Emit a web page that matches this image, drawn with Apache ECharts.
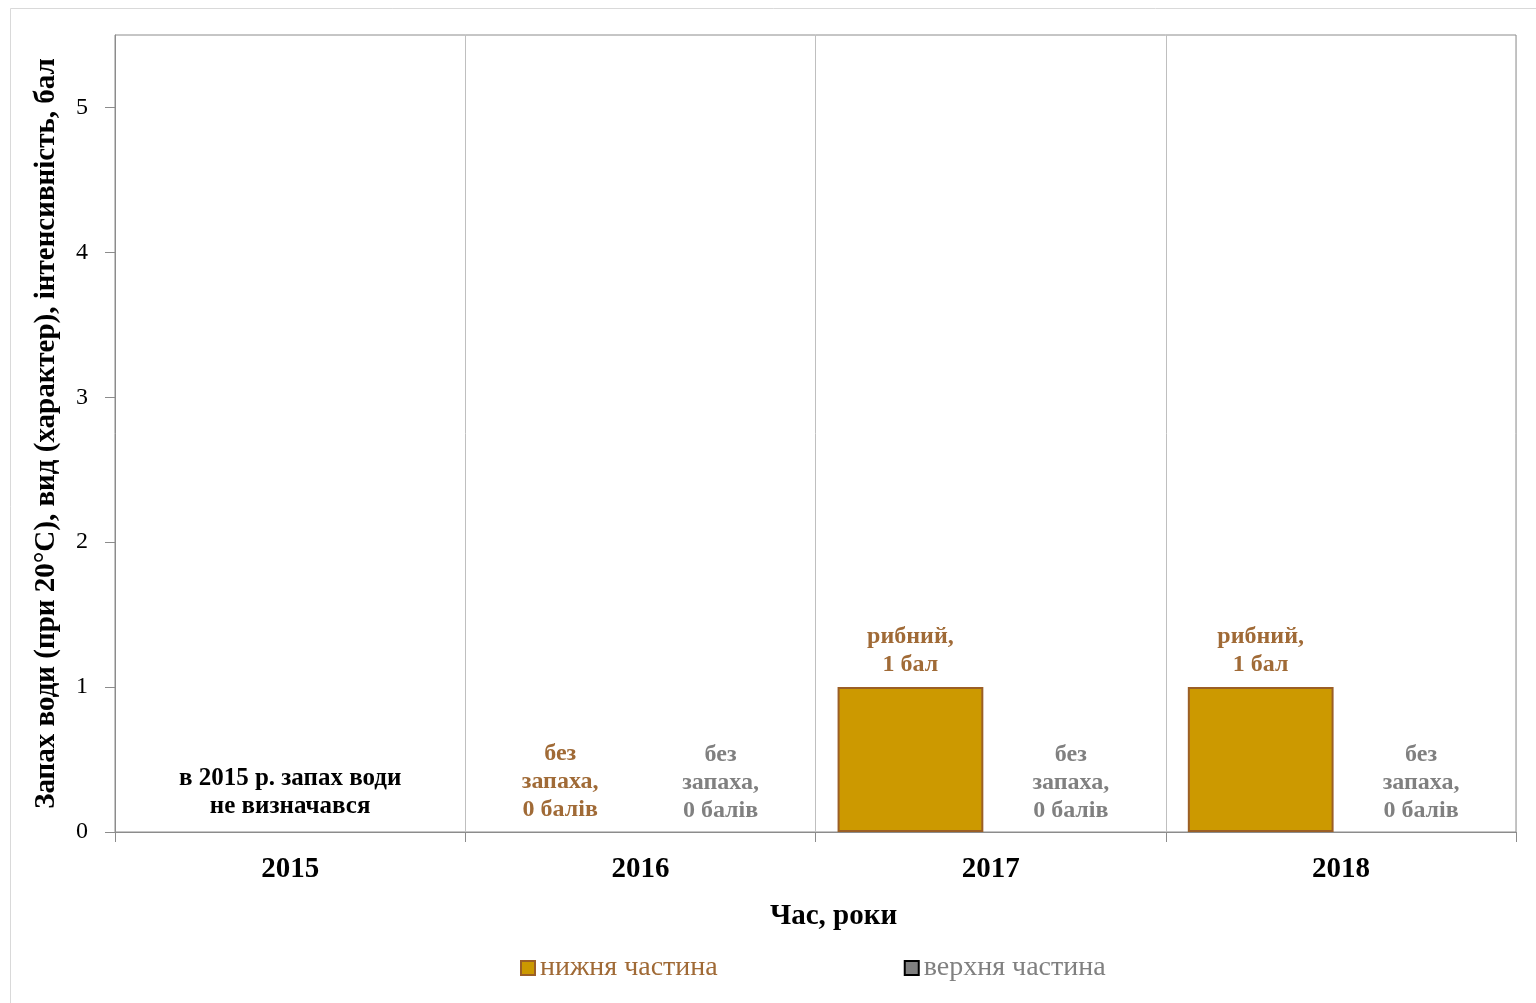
<!DOCTYPE html>
<html>
<head>
<meta charset="utf-8">
<script src="https://cdn.jsdelivr.net/npm/echarts@6/dist/echarts.min.js"></script>
<style>
  html, body { margin: 0; padding: 0; background: #fff; }
  #chart { width: 1536px; height: 1003px; }
</style>
</head>
<body>
<div id="chart"></div>
<script>
// Years on the horizontal axis
const categories = ['2015', '2016', '2017', '2018'];
// Odour intensity, points (null = not measured)
const lowerValues = [null, 0, 1, 1];
const upperValues = [null, 0, 0, 0];
// Odour description shown above each bar
const lowerLabels = [null, 'без\nзапаха,\n0 балів', 'рибний,\n1 бал', 'рибний,\n1 бал'];
const upperLabels = [null, 'без\nзапаха,\n0 балів', 'без\nзапаха,\n0 балів', 'без\nзапаха,\n0 балів'];
const seriesNames = ['нижня частина', 'верхня частина'];
const noteText = 'в 2015 р. запах води\nне визначався';
const yTicks = [0, 1, 2, 3, 4, 5];

const FONT = "'Liberation Serif', 'Times New Roman', serif";
const LOWER_FILL = '#CC9900', LOWER_EDGE = '#9B5F26', LOWER_TEXT = '#A06A36';
const UPPER_FILL = '#808080', UPPER_EDGE = '#000000', UPPER_TEXT = '#808080';

function toItems(values) {
  // zero-height bars carry no outline so nothing is drawn on the axis
  return values.map(v => (v === 0 ? { value: v, itemStyle: { borderWidth: 0 } } : v));
}

const chart = echarts.init(document.getElementById('chart'), null, { renderer: 'canvas' });

chart.setOption({
  animation: false,
  backgroundColor: '#ffffff',
  textStyle: { fontFamily: FONT },
  grid: {
    left: 115, top: 35, right: 20, bottom: 171,
    show: true, borderColor: '#8C8C8C', borderWidth: 1, backgroundColor: 'transparent'
  },
  legend: {
    left: 515, top: 949,
    itemWidth: 14, itemHeight: 14, itemGap: 186,
    icon: 'rect',
    data: [
      { name: seriesNames[0], textStyle: { color: LOWER_TEXT } },
      { name: seriesNames[1], textStyle: { color: UPPER_TEXT } }
    ],
    textStyle: { fontFamily: FONT, fontSize: 28 }
  },
  xAxis: {
    type: 'category',
    data: categories,
    boundaryGap: true,
    name: 'Час, роки',
    nameLocation: 'middle',
    nameGap: 70,
    nameTextStyle: {
      fontFamily: FONT, fontSize: 29, fontWeight: 'bold', color: '#000',
      padding: [0, 0, 0, 36]
    },
    axisLine: { lineStyle: { color: '#8C8C8C', width: 1 } },
    axisTick: { show: true, length: 10, lineStyle: { color: '#8C8C8C' } },
    axisLabel: { margin: 23, fontFamily: FONT, fontSize: 29, fontWeight: 'bold', color: '#000' },
    splitLine: { show: true, lineStyle: { color: '#BFBFBF', width: 1 } }
  },
  yAxis: {
    type: 'value',
    min: 0, max: 5.5, interval: 1,
    name: 'Запах води (при 20°С), вид (характер), інтенсивність, бал',
    nameLocation: 'middle',
    nameRotate: 90,
    nameGap: 54,
    nameTextStyle: { fontFamily: FONT, fontSize: 29, fontWeight: 'bold', color: '#000' },
    axisLine: { show: true, lineStyle: { color: '#8C8C8C', width: 1 } },
    axisTick: { show: true, length: 10, customValues: yTicks, lineStyle: { color: '#8C8C8C' } },
    axisLabel: { margin: 27, customValues: yTicks, fontFamily: FONT, fontSize: 24, color: '#000' },
    splitLine: { show: false }
  },
  series: [
    {
      name: seriesNames[0],
      type: 'bar',
      data: toItems(lowerValues),
      barGap: '10%',
      barCategoryGap: '12.6%',
      itemStyle: { color: LOWER_FILL, borderColor: LOWER_EDGE, borderWidth: 2 },
      label: {
        show: true, position: 'top', distance: 8,
        formatter: p => lowerLabels[p.dataIndex] || '',
        fontFamily: FONT, fontSize: 24, fontWeight: 'bold', lineHeight: 28, color: LOWER_TEXT
      }
    },
    {
      name: seriesNames[1],
      type: 'bar',
      data: toItems(upperValues),
      barGap: '10%',
      barCategoryGap: '12.6%',
      itemStyle: { color: UPPER_FILL, borderColor: UPPER_EDGE, borderWidth: 2 },
      label: {
        show: true, position: 'top', distance: 7,
        formatter: p => upperLabels[p.dataIndex] || '',
        fontFamily: FONT, fontSize: 24, fontWeight: 'bold', lineHeight: 28, color: UPPER_TEXT
      }
    }
  ]
});

// Outer frame of the chart plus the note for the year without measurements,
// centred on its category through the axis scale
const noteX = chart.convertToPixel({ xAxisIndex: 0 }, categories[0]);
const noteY = chart.convertToPixel({ yAxisIndex: 0 }, 0);
chart.setOption({
  graphic: [
    {
      type: 'rect',
      shape: { x: 10.5, y: 8.5, width: 1540, height: 1010 },
      style: { fill: 'none', stroke: '#D9D9D9', lineWidth: 1 },
      silent: true, z: -10
    },
    {
      type: 'text',
      x: noteX, y: noteY - 11,
      style: {
        text: noteText,
        align: 'center', verticalAlign: 'bottom',
        font: "bold 25px 'Liberation Serif', 'Times New Roman', serif",
        lineHeight: 28, fill: '#000'
      },
      silent: true
    }
  ]
});
</script>
</body>
</html>
